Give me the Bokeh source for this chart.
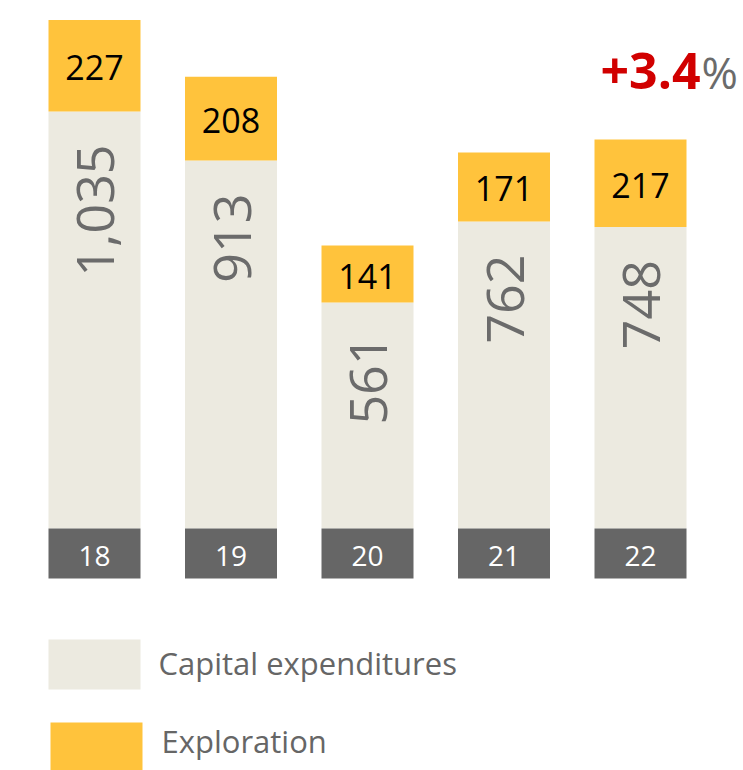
import math
from bokeh.plotting import figure
from bokeh.models import ColumnDataSource, Range1d
from bokeh.core.properties import value
from bokeh.embed import file_html
from bokeh.resources import INLINE

# ---- data ----
years = ["18", "19", "20", "21", "22"]
capex = [1035, 913, 561, 762, 748]
exploration = [227, 208, 141, 171, 217]
capex_labels = ["1,035", "913", "561", "762", "748"]
expl_labels = ["227", "208", "141", "171", "217"]
change_value = "+3.4"
change_unit = "%"
legend_labels = ["Capital expenditures", "Exploration"]

# ---- colours ----
BEIGE = "#ECEAE0"
YELLOW = "#FFC33C"
DARK = "#666666"
RED = "#D10000"

W, H = 743, 770
STEP = 136.5          # px between bar centres
X0 = 94               # px of first bar centre
KY = 0.403            # px per unit
Y0 = 528              # px of value 0 (from top)

x_start = -X0 / STEP
x_end = (W - X0) / STEP
y_top = Y0 / KY
y_bot = -(H - Y0) / KY

def dx(px):  # canvas px -> data x
    return x_start + px / STEP

def dy(py):  # canvas px from top -> data y
    return y_top - py / KY

p = figure(width=W, height=H, output_backend="svg", toolbar_location=None,
           x_range=Range1d(x_start, x_end), y_range=Range1d(y_bot, y_top),
           min_border=0)
p.axis.visible = False
p.grid.visible = False
p.outline_line_color = None
p.background_fill_color = "white"

xs = list(range(len(years)))
band = 50 / KY
src = ColumnDataSource(dict(
    x=xs, capex=capex, total=[c + e for c, e in zip(capex, exploration)],
    expl_mid=[c + e / 2 for c, e in zip(capex, exploration)],
    capex_labels=capex_labels, expl_labels=expl_labels, years=years,
    band_bot=[-band] * len(xs), zero=[0] * len(xs), band_mid=[-band / 2] * len(xs),
))
bw = 92 / STEP
p.vbar(x="x", bottom="zero", top="capex", width=bw, fill_color=BEIGE, line_color=None, source=src)
p.vbar(x="x", bottom="capex", top="total", width=bw, fill_color=YELLOW, line_color=None, source=src)
p.vbar(x="x", bottom="band_bot", top="zero", width=bw, fill_color=DARK, line_color=None, source=src)

p.text(x="x", y="expl_mid", text="expl_labels", source=src, text_align="center",
       text_baseline="middle", y_offset=2, text_font=value("Open Sans"),
       text_font_size="34px", text_color="black")
p.text(x="x", y="capex", text="capex_labels", source=src, angle=math.pi / 2,
       text_align="right", text_baseline="middle", y_offset=33, x_offset=1,
       text_font=value("Open Sans"), text_font_size="52px", text_color="#6B6B6B")
p.text(x="x", y="band_mid", text="years", source=src, text_align="center",
       text_baseline="middle", y_offset=2, text_font=value("Open Sans"),
       text_font_size="28px", text_color="white")

# change annotation
p.text(x=[dx(700)], y=[dy(70)], text=[change_value], text_align="right",
       text_baseline="middle", text_font=value("Open Sans"), text_font_style="bold",
       text_font_size="50px", text_color=RED)
p.text(x=[dx(701)], y=[dy(71)], text=[change_unit], text_align="left",
       text_baseline="middle", text_font=value("Open Sans"),
       text_font_size="44px", text_color="#6B6B6B")

# legend
p.quad(left=[dx(48)], right=[dx(140)], top=[dy(639)], bottom=[dy(689)],
       fill_color=BEIGE, line_color=None)
p.quad(left=[dx(50)], right=[dx(142)], top=[dy(722)], bottom=[dy(772)],
       fill_color=YELLOW, line_color=None)
p.text(x=[dx(158), dx(161)], y=[dy(662), dy(740)], text=legend_labels,
       text_align="left", text_baseline="middle", text_font=value("Open Sans"),
       text_font_size="31px", text_color="#666666")

open("out.html", "w").write(file_html(p, INLINE))
